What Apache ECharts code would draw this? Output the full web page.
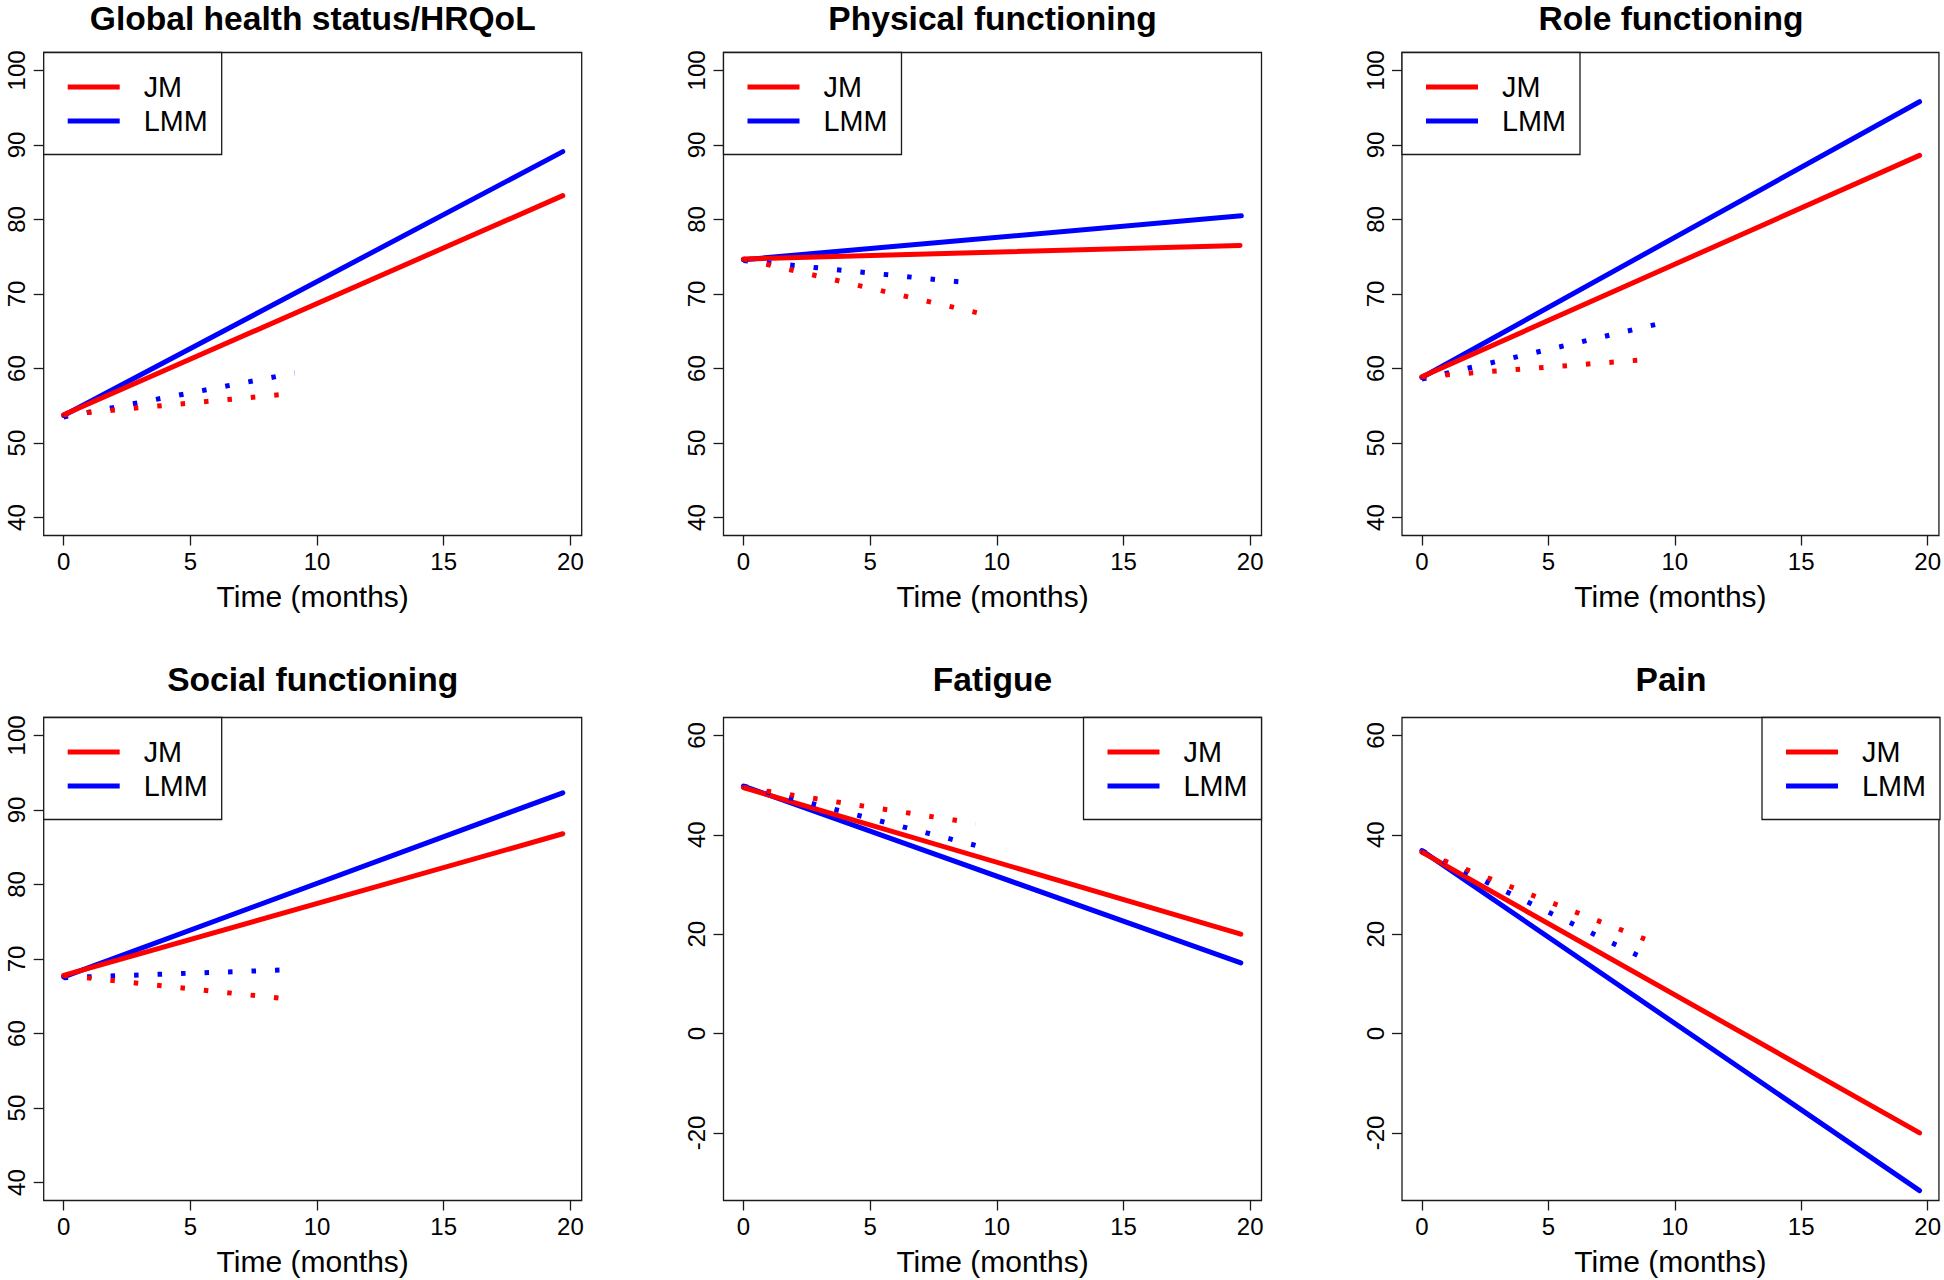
<!DOCTYPE html>
<html><head><meta charset="utf-8">
<script src="https://cdn.jsdelivr.net/npm/echarts@6/dist/echarts.min.js"></script>
<style>html,body{margin:0;padding:0;background:#fff}#c{width:1944px;height:1280px}</style>
</head><body><div id="c"></div>
<script>
// ---- data ----
const panelTitles = ['Global health status/HRQoL', 'Physical functioning', 'Role functioning',
                     'Social functioning', 'Fatigue', 'Pain'];
const xAxisTitle = 'Time (months)';
const seriesNames = ['JM', 'LMM'];
const xTicks = [0, 5, 10, 15, 20];
const scoreTicks = [40, 50, 60, 70, 80, 90, 100];
const symptomTicks = [-20, 0, 20, 40, 60];
const timeLimits = [0, 19.66];
const scoreLimits = [40, 100];
const symptomLimits = [-30, 60];
const panelScale = ['score', 'score', 'score', 'score', 'symptom', 'symptom'];
const legendSide = ['left', 'left', 'left', 'left', 'right', 'right'];

// solid lines (full follow-up)
const jmFull = [
  [[0, 53.8], [19.7, 83.2]],
  [[0, 74.7], [19.6, 76.5]],
  [[0, 58.9], [19.68, 88.6]],
  [[0, 67.8], [19.7, 86.8]],
  [[0, 49.5], [19.63, 20.0]],
  [[0, 36.5], [19.68, -20.0]]
];
const lmmFull = [
  [[0, 53.7], [19.7, 89.1]],
  [[0, 74.6], [19.65, 80.5]],
  [[0, 58.8], [19.68, 95.8]],
  [[0, 67.6], [19.7, 92.3]],
  [[0, 49.8], [19.63, 14.2]],
  [[0, 36.8], [19.68, -31.6]]
];
// dotted lines (short follow-up)
const jmShort = [
  [[0, 53.8], [9.2, 56.7]],
  [[0, 74.7], [9.46, 67.3]],
  [[0, 58.9], [9.26, 61.3]],
  [[0, 67.8], [9.2, 64.5]],
  [[0, 49.5], [9.17, 42.3]],
  [[0, 36.5], [9.48, 17.7]]
];
const lmmShort = [
  [[0, 53.5], [9.12, 59.4]],
  [[0, 74.5], [9.2, 71.4]],
  [[0, 58.6], [9.48, 66.1]],
  [[0, 67.5], [9.26, 68.6]],
  [[0, 49.8], [9.44, 37.5]],
  [[0, 36.8], [9.16, 14.2]]
];

// ---- layout / style ----
const FONT = 'Liberation Sans, Arial, sans-serif';
const INK = '#1a1a1a';
const RED = '#FF0000', BLUE = '#0000FF';
const colLeft = [43.7, 723.5, 1402];
const rowTop = [52.5, 717.5];
const titleTop = [1.5, 662.5];
const W = 538, H = 483;
function ext(lim) { const d = (lim[1] - lim[0]) * 0.04; return [lim[0] - d, lim[1] + d]; }

const grids = [], xAxes = [], yAxes = [], series = [], titles = [], legends = [];
const xr = ext(timeLimits);
for (let i = 0; i < 6; i++) {
  const row = Math.floor(i / 3);
  const left = colLeft[i % 3], top = rowTop[row];
  grids.push({ left: left, top: top, width: W, height: H, show: true,
    borderColor: INK, borderWidth: 1.3, backgroundColor: 'transparent', containLabel: false });
  xAxes.push({ gridIndex: i, type: 'value', min: xr[0], max: xr[1], position: 'bottom',
    axisLine: { show: false, onZero: false }, splitLine: { show: false },
    axisTick: { show: true, length: 10, customValues: xTicks, lineStyle: { color: INK, width: 1.3 } },
    axisLabel: { customValues: xTicks, fontSize: 24, color: '#000', margin: 14, fontFamily: FONT },
    name: xAxisTitle, nameLocation: 'middle', nameGap: 46,
    nameTextStyle: { fontSize: 30, color: '#000', fontFamily: FONT } });
  const yl = panelScale[i] === 'score' ? scoreLimits : symptomLimits;
  const yt = panelScale[i] === 'score' ? scoreTicks : symptomTicks;
  const yr = ext(yl);
  yAxes.push({ gridIndex: i, type: 'value', min: yr[0], max: yr[1], position: 'left',
    axisLine: { show: false, onZero: false }, splitLine: { show: false },
    axisTick: { show: true, length: 10, customValues: yt, lineStyle: { color: INK, width: 1.3 } },
    axisLabel: { customValues: yt, fontSize: 24, color: '#000', margin: 15, rotate: 90, fontFamily: FONT } });
  titles.push({ text: panelTitles[i], left: left + W / 2, textAlign: 'center', top: titleTop[row], padding: 0,
    textStyle: { fontSize: 33.6, lineHeight: 34, fontWeight: 'bold', color: '#000', fontFamily: FONT } });
  const lg = { orient: 'vertical', top: top, data: seriesNames.slice(), icon: 'rect',
    itemWidth: 52, itemHeight: 5, itemGap: 5, selectedMode: false,
    borderColor: INK, borderWidth: 1.3, borderRadius: 0, padding: [20, 14, 19, 24],
    backgroundColor: '#fff',
    textStyle: { fontSize: 28.8, color: '#000', fontFamily: FONT, padding: [0, 0, 0, 19], lineHeight: 29 } };
  if (legendSide[i] === 'left') lg.left = left; else lg.right = 1944 - (left + W);
  legends.push(lg);
  const base = { type: 'line', xAxisIndex: i, yAxisIndex: i, symbol: 'none', silent: true, animation: false };
  series.push(Object.assign({}, base, { name: 'LMM', data: lmmFull[i], color: BLUE,
    lineStyle: { color: BLUE, width: 5, cap: 'round' } }));
  series.push(Object.assign({}, base, { name: 'JM', data: jmFull[i], color: RED,
    lineStyle: { color: RED, width: 5, cap: 'round' } }));
  series.push(Object.assign({}, base, { name: 'LMM short', data: lmmShort[i], color: BLUE,
    lineStyle: { color: BLUE, width: 5, type: [4.5, 19], cap: 'butt' } }));
  series.push(Object.assign({}, base, { name: 'JM short', data: jmShort[i], color: RED,
    lineStyle: { color: RED, width: 5, type: [4.5, 19], cap: 'butt' } }));
}

const chart = echarts.init(document.getElementById('c'), null, { renderer: 'svg' });
chart.setOption({
  backgroundColor: '#fff', animation: false,
  title: titles, legend: legends, grid: grids, xAxis: xAxes, yAxis: yAxes, series: series
});
</script></body></html>
